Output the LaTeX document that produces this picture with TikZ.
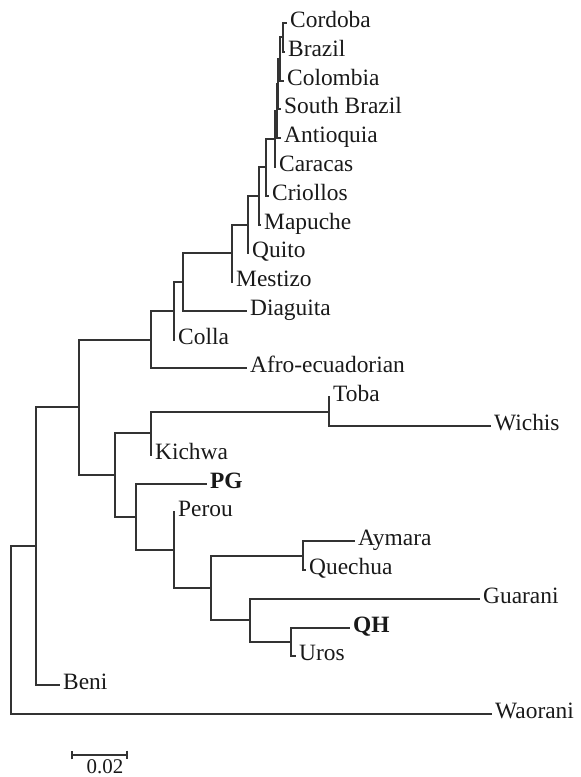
\documentclass[tikz,border=0pt]{standalone}
\usepackage{fontspec}
\setmainfont{Liberation Serif}
\usetikzlibrary{arrows.meta}

\begin{document}
\begin{tikzpicture}[
  x=1bp, y=-1bp,
  font=\fontsize{23.5}{28}\selectfont,
  leaf/.style={anchor=west, inner sep=3pt, text height=14pt, text depth=4pt, text=black!90},
  branch/.style={line width=2bp, draw=black!80},
  scalebar/.style={line width=2bp, draw=black!80, {Bar[width=9pt]}-{Bar[width=9pt]}}
]
\useasboundingbox (0,0) rectangle (581,777);

% Internal nodes
\coordinate (root) at (11,630);
\coordinate (core) at (36,546);
\coordinate (andes) at (79,407);
\coordinate (north) at (151,340);
\coordinate (cco) at (174,311);
\coordinate (cdg) at (183,282);
\coordinate (cme) at (232,253);
\coordinate (cqu) at (248,225);
\coordinate (cma) at (259,196);
\coordinate (ccr) at (266,167);
\coordinate (cca) at (275,139);
\coordinate (can) at (277,111);
\coordinate (csb) at (278,84);
\coordinate (ccl) at (280,59);
\coordinate (cbr) at (283,37);
\coordinate (south) at (115,475);
\coordinate (ckw) at (151,433);
\coordinate (ctw) at (329,412);
\coordinate (cpg) at (136,517);
\coordinate (cpe) at (174,550);
\coordinate (cpq) at (211,588);
\coordinate (caq) at (303,556);
\coordinate (cgu) at (250,620);
\coordinate (cqh) at (291,642);

% Leaves
\node[leaf] (cordoba) at (287,23) {Cordoba};
\node[leaf] (brazil) at (285,52) {Brazil};
\node[leaf] (colombia) at (284,81) {Colombia};
\node[leaf] (sbrazil) at (281,109) {South Brazil};
\node[leaf] (antioquia) at (281,138) {Antioquia};
\node[leaf] (caracas) at (276,167) {Caracas};
\node[leaf] (criollos) at (269,196) {Criollos};
\node[leaf] (mapuche) at (261,225) {Mapuche};
\node[leaf] (quito) at (249,253) {Quito};
\node[leaf] (mestizo) at (233,282) {Mestizo};
\node[leaf] (diaguita) at (247,311) {Diaguita};
\node[leaf] (colla) at (175,340) {Colla};
\node[leaf] (afro) at (247,368) {Afro-ecuadorian};
\node[leaf] (toba) at (330,397) {Toba};
\node[leaf] (wichis) at (491,426) {Wichis};
\node[leaf] (kichwa) at (152,455) {Kichwa};
\node[leaf] (pg) at (207,484) {\textbf{PG}};
\node[leaf] (perou) at (175,512) {Perou};
\node[leaf] (aymara) at (355,541) {Aymara};
\node[leaf] (quechua) at (306,570) {Quechua};
\node[leaf] (guarani) at (480,599) {Guarani};
\node[leaf] (qh) at (350,628) {\textbf{QH}};
\node[leaf] (uros) at (296,656) {Uros};
\node[leaf] (beni) at (60,685) {Beni};
\node[leaf] (waorani) at (492,714) {Waorani};

% Branches
\draw[branch] (root) |- (core);
\draw[branch] (root) |- (waorani.west);
\draw[branch] (core) |- (andes);
\draw[branch] (core) |- (beni.west);
\draw[branch] (andes) |- (north);
\draw[branch] (andes) |- (south);
\draw[branch] (north) |- (cco);
\draw[branch] (north) |- (afro.west);
\draw[branch] (cco) |- (cdg);
\draw[branch] (cco) |- (colla.west);
\draw[branch] (cdg) |- (cme);
\draw[branch] (cdg) |- (diaguita.west);
\draw[branch] (cme) |- (cqu);
\draw[branch] (cme) |- (mestizo.west);
\draw[branch] (cqu) |- (cma);
\draw[branch] (cqu) |- (quito.west);
\draw[branch] (cma) |- (ccr);
\draw[branch] (cma) |- (mapuche.west);
\draw[branch] (ccr) |- (cca);
\draw[branch] (ccr) |- (criollos.west);
\draw[branch] (cca) |- (can);
\draw[branch] (cca) |- (caracas.west);
\draw[branch] (can) |- (csb);
\draw[branch] (can) |- (antioquia.west);
\draw[branch] (csb) |- (ccl);
\draw[branch] (csb) |- (sbrazil.west);
\draw[branch] (ccl) |- (cbr);
\draw[branch] (ccl) |- (colombia.west);
\draw[branch] (cbr) |- (cordoba.west);
\draw[branch] (cbr) |- (brazil.west);
\draw[branch] (south) |- (ckw);
\draw[branch] (south) |- (cpg);
\draw[branch] (ckw) |- (ctw);
\draw[branch] (ckw) |- (kichwa.west);
\draw[branch] (ctw) |- (toba.west);
\draw[branch] (ctw) |- (wichis.west);
\draw[branch] (cpg) |- (pg.west);
\draw[branch] (cpg) |- (cpe);
\draw[branch] (cpe) |- (perou.west);
\draw[branch] (cpe) |- (cpq);
\draw[branch] (cpq) |- (caq);
\draw[branch] (cpq) |- (cgu);
\draw[branch] (caq) |- (aymara.west);
\draw[branch] (caq) |- (quechua.west);
\draw[branch] (cgu) |- (guarani.west);
\draw[branch] (cgu) |- (cqh);
\draw[branch] (cqh) |- (qh.west);
\draw[branch] (cqh) |- (uros.west);

% Scale bar
\coordinate (sbL) at (71,755);
\coordinate (sbR) at (128,755);
\draw[scalebar] (sbL) -- (sbR);
\node[font=\fontsize{21}{24}\selectfont, text=black!90, inner sep=0pt] (sblabel) at (105,767) {0.02};

\end{tikzpicture}
\end{document}
